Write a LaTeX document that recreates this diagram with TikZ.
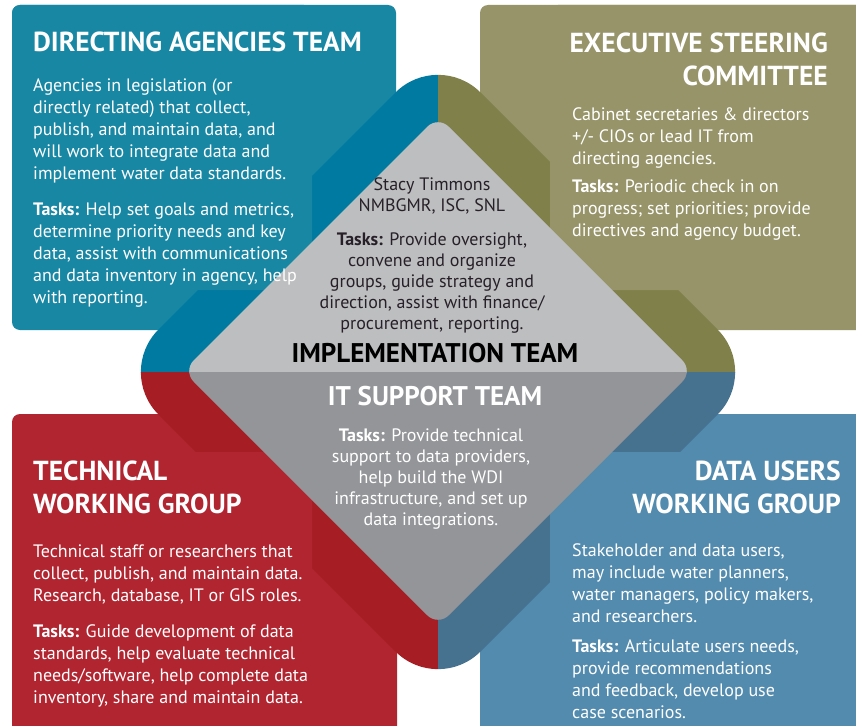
\documentclass[tikz,border=0pt]{standalone}
\usepackage{fontspec}
\setmainfont{PT Sans}
% colores de los equipos
\definecolor{dirlight}{RGB}{24,135,164}
\definecolor{dirdark}{RGB}{0,122,160}
\definecolor{exelight}{RGB}{150,148,104}
\definecolor{exedark}{RGB}{128,128,74}
\definecolor{teclight}{RGB}{177,37,48}
\definecolor{tecdark}{RGB}{166,30,35}
\definecolor{uselight}{RGB}{82,139,174}
\definecolor{usedark}{RGB}{71,114,143}
\definecolor{impgray}{RGB}{189,190,192}
\definecolor{itgray}{RGB}{147,149,152}
\definecolor{darktext}{RGB}{40,32,40}
\tikzset{
  boxtitle/.style={font=\fontsize{27.5}{33}\selectfont\bfseries, text=white, inner sep=0pt},
  boxtext/.style={font=\fontsize{18}{22}\selectfont, text=white, inner sep=0pt, align=left},
  midtext/.style={font=\fontsize{18}{21}\selectfont, inner sep=0pt, align=center},
  teamname/.style={font=\fontsize{27}{30}\selectfont\bfseries, inner sep=0pt, anchor=base},
}
\begin{document}
\begin{tikzpicture}[x=1pt, y=-1pt]
        \useasboundingbox (0,0) rectangle (856,725);
        \clip (0,0) rectangle (856,725);
        % Cajas de fondo
        \fill[dirlight, rounded corners=8] (12,5) rectangle (396,330);
        \fill[exelight, rounded corners=8] (480,5) rectangle (870,330);
        \fill[teclight, rounded corners=8] (12,414) rectangle (397,740);
        \fill[uselight, rounded corners=8] (480,414) rectangle (870,740);
        % Anillo en cuatro cuadrantes
        \foreach \cx/\cy/\col in {0/0/dirdark, 438/0/exedark, 0/372/tecdark, 438/372/usedark} {
            \begin{scope}
                \clip (\cx,\cy) rectangle ++(438,372);
                \fill[\col, rounded corners=60] (277,211) -- (438,50) -- (760,372) -- (438,694) -- (116,372) -- cycle;
            \end{scope}
        }
        % Paneles de texto
        \fill[dirlight, rounded corners=8] (12,5) rectangle (312,290);
        \fill[exelight, rounded corners=8] (550,5) rectangle (870,290);
        \fill[teclight, rounded corners=8] (12,452) rectangle (312,740);
        \fill[uselight, rounded corners=8] (550,452) rectangle (870,740);
        % Rombo central
        \begin{scope}
            \clip (0,0) rectangle (856,372);
            \fill[impgray, rounded corners=15] (310.5,243.5) -- (438,116) -- (693,371) -- (438,626) -- (183,371) -- cycle;
        \end{scope}
        \begin{scope}
            \clip (0,372) rectangle (856,725);
            \fill[itgray, rounded corners=15] (310.5,243.5) -- (438,116) -- (693,371) -- (438,626) -- (183,371) -- cycle;
        \end{scope}
        % Directing agencies (base = ultima linea)
        \node[boxtitle, anchor=base west] (dirtitle) at (33,52) {DIRECTING AGENCIES TEAM};
        \node[boxtext, anchor=base west] (dirbody) at (33,179) {Agencies in legislation (or\\directly related) that collect,\\publish, and maintain data, and\\will work to integrate data and\\implement water data standards.};
        \node[boxtext, anchor=base west] (dirtasks) at (33,303) {\textbf{Tasks:} Help set goals and metrics,\\determine priority needs and key\\data, assist with communications\\and data inventory in agency, help\\with reporting.};
        % Executive steering
        \node[boxtitle, anchor=base east, align=right] (exetitle) at (828,85) {EXECUTIVE STEERING\\COMMITTEE};
        \node[boxtext, anchor=base west] (exebody) at (572,164) {Cabinet secretaries \& directors\\+/- CIOs or lead IT from\\directing agencies.};
        \node[boxtext, anchor=base west] (exetasks) at (572,236) {\textbf{Tasks:} Periodic check in on\\progress; set priorities; provide\\directives and agency budget.};
        % Implementation team
        \node[midtext, text=darktext, anchor=base] (impname) at (432,211) {Stacy Timmons\\NMBGMR, ISC, SNL};
        \node[midtext, text=darktext, anchor=base] (imptasks) at (432,329) {\textbf{Tasks:} Provide oversight,\\convene and organize\\groups, guide strategy and\\direction, assist with finance/\\procurement, reporting.};
        \node[teamname, text=black] (imptitle) at (435,362) {IMPLEMENTATION TEAM};
        % IT support team
        \node[teamname, text=white] (ittitle) at (435,405) {IT SUPPORT TEAM};
        \node[midtext, text=white, anchor=base] (ittasks) at (431,525) {\textbf{Tasks:} Provide technical\\support to data providers,\\help build the WDI\\infrastructure, and set up\\data integrations.};
        % Technical working group
        \node[boxtitle, anchor=base west, align=left] (tectitle) at (33,513) {TECHNICAL\\WORKING GROUP};
        \node[boxtext, anchor=base west] (tecbody) at (33,601) {Technical staff or researchers that\\collect, publish, and maintain data.\\Research, database, IT or GIS roles.};
        \node[boxtext, anchor=base west] (tectasks) at (33,703) {\textbf{Tasks:} Guide development of data\\standards, help evaluate technical\\needs/software, help complete data\\inventory, share and maintain data.};
        % Data users working group
        \node[boxtitle, anchor=base east, align=right] (usetitle) at (841,513) {DATA USERS\\WORKING GROUP};
        \node[boxtext, anchor=base west] (usebody) at (572,622) {Stakeholder and data users,\\may include water planners,\\water managers, policy makers,\\and researchers.};
        \node[boxtext, anchor=base west] (usetasks) at (572,718) {\textbf{Tasks:} Articulate users needs,\\provide recommendations\\and feedback, develop use\\case scenarios.};
\end{tikzpicture}
\end{document}
